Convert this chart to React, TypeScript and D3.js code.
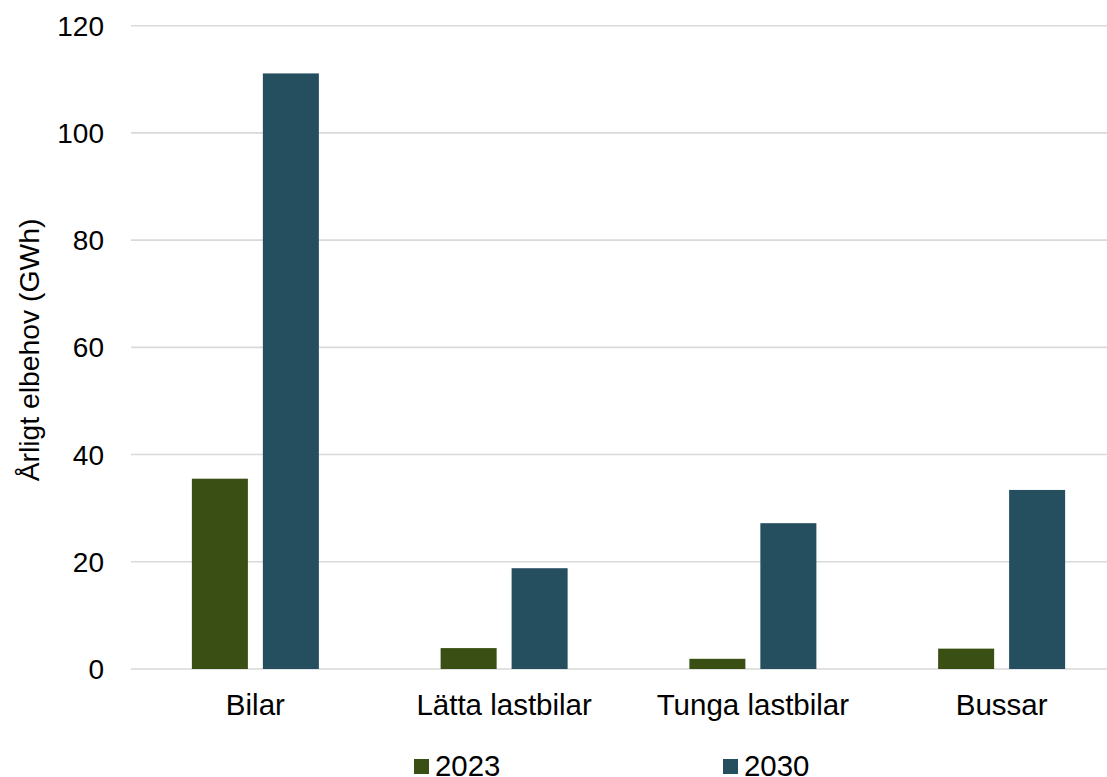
import React from "react";
import * as d3 from "d3";

const categories = ["Bilar", "Lätta lastbilar", "Tunga lastbilar", "Bussar"];
const seriesNames = ["2023", "2030"];
const values2023 = [35.5, 3.9, 1.9, 3.8];
const values2030 = [111.1, 18.8, 27.2, 33.4];
const yTicks = [0, 20, 40, 60, 80, 100, 120];
const colors = ["#3A4F13", "#254E5F"];

const W = 1107;
const H = 777;
const FONT = "Arial, 'Liberation Sans', sans-serif";

export default function App() {
  const x0 = d3.scaleBand<string>().domain(categories).range([131, 1126]).paddingInner(0).paddingOuter(0);
  const bw = x0.bandwidth();
  const x1 = d3
    .scaleBand<string>()
    .domain(seriesNames)
    .range([bw / 2 - 63.5, bw / 2 + 63.5])
    .paddingInner(0.211)
    .paddingOuter(0);
  const y = d3.scaleLinear().domain([0, 120]).range([669, 25.7]);
  const seriesVals = [values2023, values2030];

  return (
    <svg
      width={W}
      height={H}
      style={{ position: "absolute", left: 0, top: 0, background: "#fff" }}
      fontFamily={FONT}
    >
      <rect x={0} y={0} width={W} height={H} fill="#fff" />
      {yTicks.map((t) => (
        <g key={t}>
          <line x1={131} x2={W} y1={y(t)} y2={y(t)} stroke="#d9d9d9" strokeWidth={1.6} />
          <text x={104} y={y(t)} dy="0.36em" textAnchor="end" fontSize={28} fill="#000">
            {t}
          </text>
        </g>
      ))}
      {categories.map((c, i) => (
        <g key={c}>
          {seriesNames.map((s, j) => {
            const v = seriesVals[j][i];
            return (
              <rect
                key={s}
                x={(x0(c) as number) + (x1(s) as number)}
                y={y(v)}
                width={x1.bandwidth()}
                height={y(0) - y(v)}
                fill={colors[j]}
              />
            );
          })}
          <text
            x={(x0(c) as number) + bw / 2}
            y={715}
            textAnchor="middle"
            fontSize={29.5}
            fill="#000"
          >
            {c}
          </text>
        </g>
      ))}
      <text
        transform={`translate(39, 350) rotate(-90)`}
        textAnchor="middle"
        fontSize={28.3}
        fill="#000"
      >
        Årligt elbehov (GWh)
      </text>
      {seriesNames.map((s, j) => {
        const lx = [414, 723][j];
        return (
          <g key={s}>
            <rect x={lx} y={759} width={15} height={15} fill={colors[j]} />
            <text x={lx + 21} y={775.5} fontSize={29.4} fill="#000">
              {s}
            </text>
          </g>
        );
      })}
    </svg>
  );
}
